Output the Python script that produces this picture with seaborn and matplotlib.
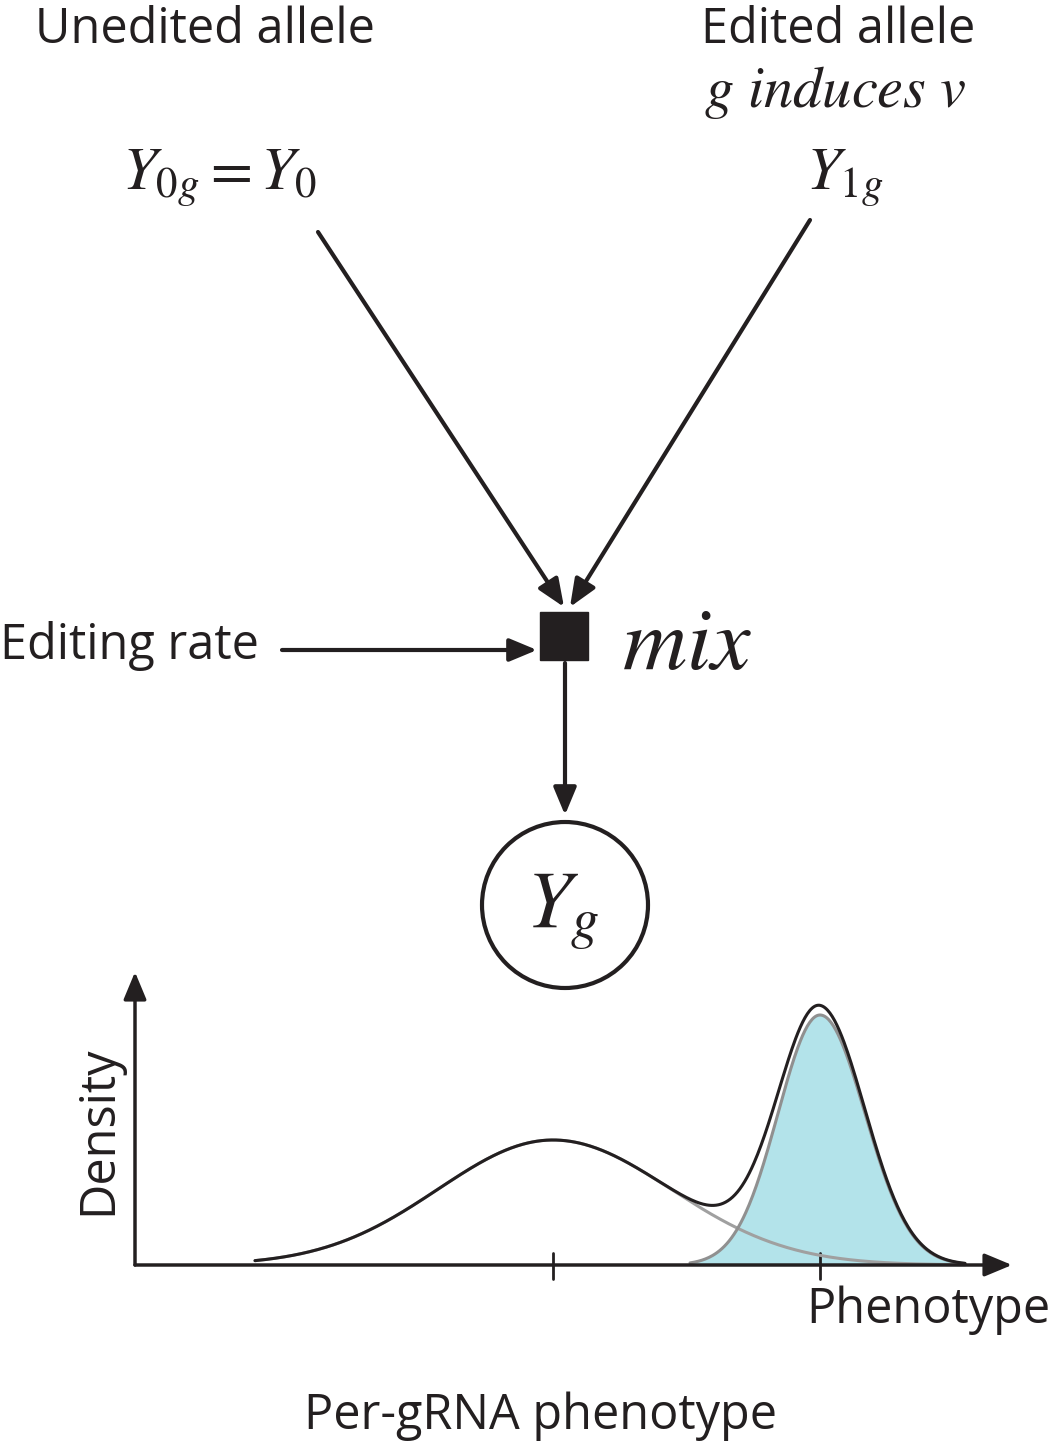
import numpy as np
import pandas as pd
import matplotlib
matplotlib.use("Agg")
import matplotlib.pyplot as plt
import seaborn as sns
from matplotlib.patches import Circle, Rectangle, FancyArrowPatch

# Mixture components (pixel units of the canvas)
comp_names = ["unedited", "edited"]
comp_means = [553, 820]
comp_sd_left = [115, 42]
comp_sd_right = [118, 45]
comp_heights = [125, 250]
x_start = [255, 600]
x_end = [1000, 965]
tick_positions = [553, 820]

sns.set_theme(style="white")
plt.rcParams["font.family"] = ["Open Sans", "DejaVu Sans"]
plt.rcParams["mathtext.fontset"] = "stix"

fig = plt.figure(figsize=(10.59, 14.53), dpi=100)
ax = fig.add_axes([0, 0, 1, 1])
ax.set_xlim(0, 1059)
ax.set_ylim(1453, 0)
ax.axis("off")

base = 1265
xs = np.linspace(255, 965, 600)

def comp(i, x):
    sd = np.where(x < comp_means[i], comp_sd_left[i], comp_sd_right[i])
    y = comp_heights[i] * np.exp(-0.5 * ((x - comp_means[i]) / sd) ** 2)
    return np.where((x >= x_start[i]) & (x <= x_end[i]), y, 0.0)

c1 = comp(0, xs)
c2 = comp(1, xs)
tot = c1 + c2
df = pd.DataFrame({"x": np.concatenate([xs, xs[xs >= 690], xs]),
                   "y": base - np.concatenate([c1, c2[xs >= 690], tot]),
                   "curve": ["c1"] * len(xs) + ["c2"] * int((xs >= 690).sum()) + ["total"] * len(xs)})
m2 = xs >= 690
ax.fill_between(xs[m2], base, base - c2[m2], color="#b3e3ea", zorder=1)
sns.lineplot(data=df, x="x", y="y", hue="curve",
             palette={"c1": "#a0a0a0", "c2": "#909090", "total": "#231f20"},
             linewidth=2.2, legend=False, ax=ax, sort=False, zorder=3)

k = "#231f20"
def arrow(p0, p1, lw=3):
    ax.add_patch(FancyArrowPatch(p0, p1, arrowstyle="-|>,head_length=12,head_width=5",
                                 color=k, lw=lw, mutation_scale=1.4, shrinkA=0, shrinkB=0, zorder=4))

# axes of the density plot
arrow((135, base), (1012, base), lw=2.5)
arrow((135, base), (135, 972), lw=2.5)
for t in tick_positions:
    ax.plot([t, t], [base - 12, base + 14], color=k, lw=2)

# graph arrows
arrow((318, 232), (564, 607))
arrow((810, 220), (570, 607))
arrow((282, 650), (537, 650))
arrow((565, 663), (565, 815))
ax.add_patch(Rectangle((540, 612), 48, 48, color=k, zorder=5))
ax.add_patch(Circle((565, 905), 83, fill=False, ec=k, lw=3))

fs = 35
ax.text(205, 30, "Unedited allele", ha="center", va="center", fontsize=fs, color=k)
ax.text(838, 30, "Edited allele", ha="center", va="center", fontsize=fs, color=k)
ax.text(835, 92, r"$g\ induces\ v$", ha="center", va="center", fontsize=42, color=k)
ax.text(220, 178, r"$Y_{0g} = Y_0$", ha="center", va="center", fontsize=44, color=k)
ax.text(845, 178, r"$Y_{1g}$", ha="center", va="center", fontsize=44, color=k)
ax.text(0, 646, "Editing rate", ha="left", va="center", fontsize=fs, color=k)
ax.text(622, 646, r"$mix$", ha="left", va="center", fontsize=64, color=k)
ax.text(563, 912, r"$Y_g$", ha="center", va="center", fontsize=58, color=k)
ax.text(98, 1130, "Density", ha="center", va="center", rotation=90, fontsize=fs, color=k)
ax.text(928, 1310, "Phenotype", ha="center", va="center", fontsize=fs, color=k)
ax.text(540, 1416, "Per-gRNA phenotype", ha="center", va="center", fontsize=fs, color=k)

fig.savefig("out.png", dpi=100)
